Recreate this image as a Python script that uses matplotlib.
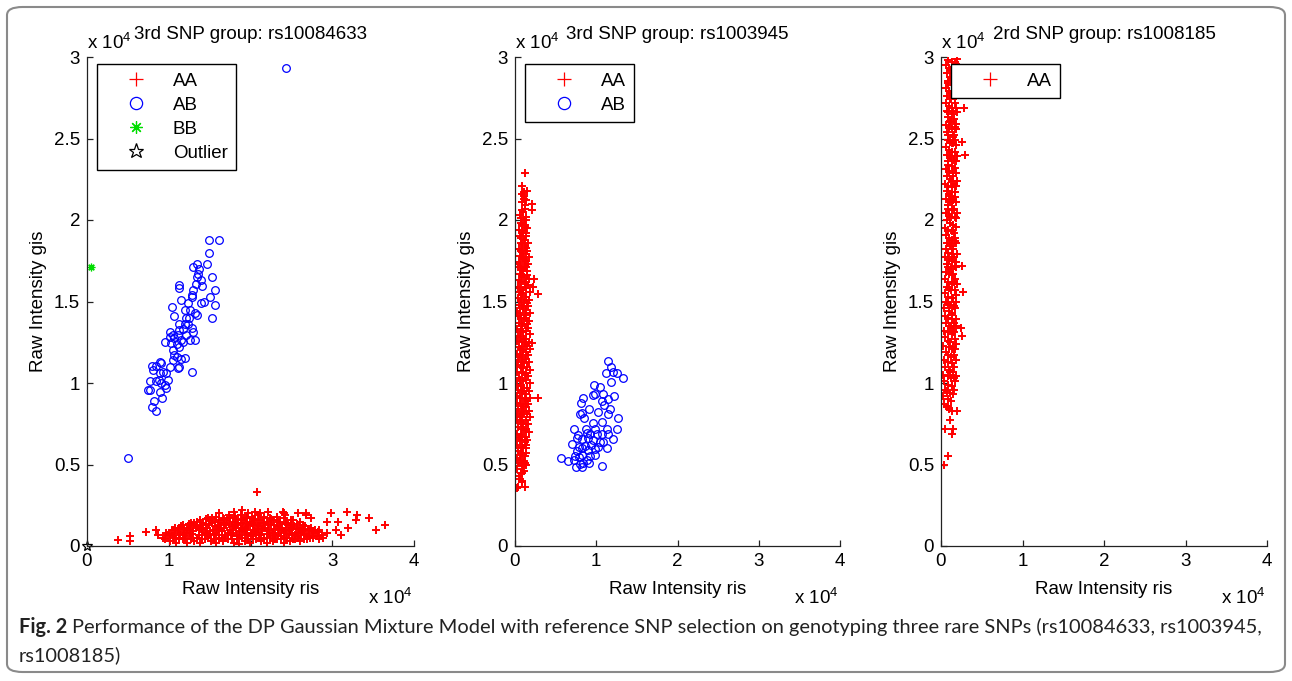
import matplotlib
matplotlib.use('Agg')
import matplotlib.pyplot as plt
from matplotlib.patches import FancyBboxPatch

plt.rcParams['font.family'] = ['Liberation Sans', 'DejaVu Sans']
plt.rcParams['mathtext.fontset'] = 'custom'
plt.rcParams['mathtext.rm'] = 'Liberation Sans'

# all intensities in units of 1e4
# ---- panel 1: rs10084633 ----
p1_aa_x = [1.02, 1.09, 1.17, 1.22, 1.31, 1.38, 1.44, 1.52, 1.58, 1.66, 1.73, 1.80, 1.86, 1.93, 1.99, 2.07, 2.13, 2.20, 2.27, 2.33, 2.41, 2.48, 2.55, 2.61, 2.69, 2.77, 2.84,
           0.96, 1.06, 1.13, 1.20, 1.27, 1.34, 1.41, 1.48, 1.55, 1.62, 1.69, 1.77, 1.83, 1.90, 1.97, 2.03, 2.10, 2.17, 2.24, 2.30, 2.37, 2.45, 2.52, 2.58, 2.65, 2.73, 2.81, 2.89,
           0.93, 0.99, 1.05, 1.13, 1.19, 1.26, 1.34, 1.41, 1.48, 1.55, 1.62, 1.69, 1.76, 1.83, 1.90, 1.96, 2.03, 2.10, 2.17, 2.24, 2.30, 2.37, 2.44, 2.51, 2.58, 2.65, 2.72, 2.79, 2.87,
           1.01, 1.08, 1.14, 1.21, 1.28, 1.37, 1.44, 1.51, 1.58, 1.65, 1.72, 1.79, 1.86, 1.93, 2.00, 2.07, 2.13, 2.20, 2.27, 2.34, 2.41, 2.47, 2.54, 2.61, 2.68, 2.75, 2.82,
           0.97, 1.04, 1.11, 1.17, 1.24, 1.30, 1.37, 1.45, 1.51, 1.59, 1.65, 1.72, 1.79, 1.87, 1.93, 2.00, 2.06, 2.14, 2.21, 2.28, 2.35, 2.42, 2.48, 2.56, 2.63, 2.70, 2.76, 2.84,
           1.06, 1.13, 1.19, 1.26, 1.33, 1.40, 1.47, 1.54, 1.61, 1.68, 1.75, 1.82, 1.89, 1.96, 2.03, 2.09, 2.16, 2.23, 2.30, 2.37, 2.44, 2.51, 2.58, 2.65, 2.72, 2.79,
           1.08, 1.15, 1.22, 1.28, 1.35, 1.42, 1.49, 1.56, 1.63, 1.70, 1.77, 1.84, 1.91, 1.97, 2.04, 2.11, 2.18, 2.25, 2.32, 2.39, 2.46, 2.53, 2.60, 2.67, 2.74,
           1.18, 1.25, 1.31, 1.39, 1.46, 1.53, 1.60, 1.67, 1.74, 1.81, 1.88, 1.95, 2.02, 2.08, 2.15, 2.22, 2.29, 2.36, 2.43, 2.50, 2.57, 2.64,
           1.27, 1.35, 1.42, 1.50, 1.57, 1.64, 1.71, 1.78, 1.85, 1.92, 1.99, 2.06, 2.13, 2.20, 2.27, 2.35, 2.43, 2.52, 2.60,
           1.38, 1.46, 1.53, 1.61, 1.68, 1.75, 1.82, 1.89, 1.96, 2.03, 2.10, 2.17, 2.25, 2.33, 2.41, 2.50,
           1.48, 1.58, 1.66, 1.74, 1.81, 1.88, 1.95, 2.02, 2.09, 2.16, 2.24, 2.33, 2.42, 2.58, 2.68,
           1.62, 1.80, 1.90, 1.97, 2.05, 2.12, 2.22, 2.40,
           0.38, 0.52, 0.53, 0.72, 0.84, 0.87, 2.08, 2.93, 2.98, 3.07, 3.18, 3.29, 3.30, 3.45, 3.54, 3.64, 3.19, 3.11, 2.94, 3.04, 2.41, 2.68, 2.74]
p1_aa_y = [0.03, 0.02, 0.04, 0.02, 0.03, 0.02, 0.04, 0.03, 0.02, 0.03, 0.04, 0.02, 0.01, 0.03, 0.02, 0.04, 0.03, 0.02, 0.03, 0.04, 0.02, 0.03, 0.04, 0.03, 0.04, 0.05, 0.04,
           0.04, 0.05, 0.04, 0.05, 0.04, 0.05, 0.04, 0.05, 0.045, 0.04, 0.05, 0.045, 0.04, 0.05, 0.04, 0.045, 0.05, 0.04, 0.05, 0.045, 0.04, 0.05, 0.045, 0.05, 0.04, 0.05, 0.06, 0.05,
           0.05, 0.07, 0.06, 0.05, 0.07, 0.06, 0.05, 0.07, 0.06, 0.07, 0.05, 0.06, 0.07, 0.06, 0.05, 0.07, 0.06, 0.07, 0.05, 0.06, 0.07, 0.06, 0.05, 0.07, 0.06, 0.07, 0.06, 0.08, 0.07,
           0.075, 0.08, 0.07, 0.08, 0.075, 0.07, 0.08, 0.075, 0.08, 0.07, 0.075, 0.08, 0.07, 0.08, 0.075, 0.08, 0.07, 0.075, 0.08, 0.07, 0.08, 0.075, 0.07, 0.08, 0.075, 0.08, 0.085,
           0.08, 0.10, 0.09, 0.08, 0.10, 0.09, 0.10, 0.08, 0.09, 0.10, 0.09, 0.08, 0.10, 0.09, 0.10, 0.08, 0.09, 0.10, 0.09, 0.08, 0.10, 0.09, 0.10, 0.08, 0.09, 0.10, 0.09, 0.10,
           0.10, 0.11, 0.105, 0.10, 0.11, 0.105, 0.11, 0.10, 0.105, 0.11, 0.10, 0.11, 0.105, 0.11, 0.10, 0.105, 0.11, 0.10, 0.105, 0.11, 0.10, 0.11, 0.105, 0.10, 0.105, 0.10,
           0.11, 0.12, 0.11, 0.13, 0.12, 0.11, 0.13, 0.12, 0.11, 0.13, 0.12, 0.13, 0.11, 0.12, 0.13, 0.12, 0.11, 0.13, 0.12, 0.11, 0.13, 0.12, 0.11, 0.12, 0.11,
           0.13, 0.135, 0.14, 0.13, 0.135, 0.14, 0.13, 0.14, 0.135, 0.13, 0.14, 0.135, 0.14, 0.13, 0.14, 0.135, 0.13, 0.14, 0.135, 0.13, 0.135, 0.13,
           0.14, 0.15, 0.14, 0.16, 0.15, 0.14, 0.16, 0.15, 0.14, 0.16, 0.15, 0.16, 0.14, 0.15, 0.16, 0.15, 0.14, 0.16, 0.15,
           0.16, 0.165, 0.17, 0.16, 0.165, 0.17, 0.165, 0.16, 0.17, 0.165, 0.16, 0.17, 0.165, 0.16, 0.17, 0.16,
           0.17, 0.18, 0.17, 0.19, 0.18, 0.19, 0.17, 0.18, 0.19, 0.18, 0.17, 0.18, 0.19, 0.20, 0.19,
           0.20, 0.21, 0.22, 0.20, 0.21, 0.20, 0.21, 0.21,
           0.035, 0.03, 0.06, 0.086, 0.096, 0.065, 0.33, 0.15, 0.20, 0.15, 0.21, 0.16, 0.19, 0.17, 0.10, 0.13, 0.11, 0.07, 0.08, 0.10, 0.20, 0.20, 0.17]
p1_ab_x = [1.49, 1.61, 1.49, 1.47, 1.345, 1.30, 1.37, 1.525, 1.36, 1.34, 1.39, 1.33, 1.13, 1.13, 1.41, 1.565, 1.30, 1.28, 1.29, 1.50,
           1.155, 1.435, 1.39, 1.56, 1.23, 1.045, 1.195, 1.255, 1.32, 1.345, 1.07, 1.215, 1.245, 1.53, 1.13, 1.195, 1.235, 1.175, 1.28, 1.13,
           1.30, 1.01, 1.05, 1.11, 1.215, 1.01, 1.07, 1.155, 1.255, 1.32, 0.955, 1.03, 1.095, 1.175, 1.13, 1.05, 1.07, 1.095, 1.155, 1.195,
           1.05, 1.01, 1.11, 1.13, 1.28, 0.80, 0.84, 0.89, 0.91, 0.81, 0.93, 0.89, 0.97, 0.775, 0.85, 0.88, 0.91, 0.95, 0.985, 0.75,
           0.77, 0.89, 0.97, 0.92, 0.815, 0.80, 0.84, 2.44, 0.50]
p1_ab_y = [1.88, 1.875, 1.80, 1.73, 1.73, 1.71, 1.70, 1.65, 1.67, 1.65, 1.63, 1.61, 1.60, 1.585, 1.595, 1.57, 1.57, 1.54, 1.53, 1.53,
           1.51, 1.50, 1.49, 1.48, 1.49, 1.465, 1.45, 1.45, 1.43, 1.42, 1.41, 1.40, 1.40, 1.40, 1.36, 1.36, 1.36, 1.33, 1.335, 1.325,
           1.315, 1.31, 1.295, 1.295, 1.295, 1.28, 1.275, 1.265, 1.265, 1.265, 1.25, 1.245, 1.24, 1.25, 1.22, 1.20, 1.17, 1.16, 1.145, 1.155,
           1.14, 1.10, 1.09, 1.10, 1.07, 1.105, 1.105, 1.13, 1.12, 1.08, 1.07, 1.06, 1.06, 1.01, 1.015, 1.02, 1.00, 0.99, 1.02, 0.955,
           0.96, 0.945, 0.97, 0.91, 0.89, 0.85, 0.83, 2.93, 0.54]
p1_bb_x = [0.05]
p1_bb_y = [1.71]
p1_out_x = [0.0]
p1_out_y = [0.0]

# ---- panel 2: rs1003945 ----
p2_aa_x = [0.05, 0.03, 0.04, 0.02, 0.04, 0.03, 0.05, 0.02, 0.04, 0.03, 0.02, 0.04, 0.03, 0.02, 0.04, 0.03, 0.05, 0.02, 0.03, 0.04, 0.02, 0.05,
           0.03, 0.04, 0.03, 0.05, 0.04, 0.03, 0.05, 0.04, 0.06, 0.04, 0.05, 0.06, 0.04, 0.05, 0.06, 0.05, 0.07, 0.06, 0.05, 0.07, 0.06,
           0.06, 0.07, 0.08, 0.06, 0.07, 0.08, 0.06, 0.07, 0.08, 0.07, 0.06, 0.08, 0.07, 0.06, 0.08, 0.07, 0.06, 0.08, 0.07, 0.08, 0.06, 0.07, 0.08,
           0.06, 0.07, 0.08, 0.07, 0.06, 0.08, 0.07, 0.08, 0.06, 0.07, 0.08, 0.07, 0.06, 0.08, 0.07, 0.08, 0.07, 0.09, 0.08, 0.07, 0.09, 0.08, 0.09, 0.08,
           0.08, 0.09, 0.10, 0.11, 0.09, 0.10, 0.12, 0.09, 0.11, 0.10, 0.09, 0.11, 0.10, 0.12, 0.09, 0.11, 0.10, 0.12, 0.10, 0.11, 0.09, 0.10, 0.12,
           0.11, 0.10, 0.09, 0.11, 0.12, 0.10, 0.11, 0.09, 0.10, 0.12, 0.11, 0.10, 0.12, 0.11, 0.10, 0.12, 0.11, 0.10, 0.12, 0.11, 0.10, 0.12, 0.11,
           0.11, 0.12, 0.13, 0.14, 0.13, 0.14, 0.13, 0.15, 0.14, 0.13, 0.14, 0.15, 0.13, 0.14, 0.15, 0.13, 0.14, 0.15, 0.13, 0.14,
           0.15, 0.14, 0.13, 0.15, 0.14, 0.13, 0.14, 0.15, 0.13, 0.14, 0.13, 0.14, 0.12, 0.13, 0.12, 0.13, 0.12, 0.13, 0.11,
           0.13, 0.12, 0.14, 0.15, 0.17, 0.16, 0.18, 0.17, 0.16, 0.18, 0.17, 0.19, 0.16, 0.18, 0.17, 0.16, 0.18, 0.17, 0.19, 0.16, 0.17, 0.18,
           0.16, 0.17, 0.18, 0.16, 0.17, 0.15, 0.16, 0.17, 0.15, 0.16, 0.14, 0.15, 0.14,
           0.28, 0.22, 0.235, 0.28, 0.21, 0.21, 0.12, 0.15, 0.11, 0.04, 0.12, 0.08, 0.02, 0.21]
p2_aa_y = [0.43, 0.47, 0.51, 0.54, 0.58, 0.62, 0.66, 0.69, 0.73, 0.77, 0.81, 0.84, 0.88, 0.92, 0.96, 0.99, 1.03, 1.07, 1.11, 1.14, 1.18, 1.22,
           1.26, 1.29, 1.33, 1.37, 1.41, 1.44, 1.48, 1.52, 1.56, 1.59, 1.63, 1.67, 1.71, 1.74, 1.78, 1.82, 1.86, 1.90, 1.94, 1.98, 2.03,
           0.41, 0.45, 0.50, 0.53, 0.57, 0.61, 0.65, 0.68, 0.72, 0.76, 0.80, 0.83, 0.87, 0.91, 0.95, 0.98, 1.02, 1.06, 1.10, 1.13, 1.17, 1.21, 1.25,
           1.28, 1.32, 1.36, 1.40, 1.43, 1.47, 1.51, 1.55, 1.58, 1.62, 1.66, 1.70, 1.73, 1.77, 1.81, 1.85, 1.89, 1.93, 1.97, 2.01, 2.06, 2.11, 2.16, 2.21,
           0.40, 0.45, 0.49, 0.52, 0.56, 0.60, 0.64, 0.67, 0.71, 0.75, 0.79, 0.82, 0.86, 0.90, 0.94, 0.97, 1.01, 1.05, 1.09, 1.12, 1.16, 1.20, 1.24,
           1.27, 1.31, 1.35, 1.39, 1.42, 1.46, 1.50, 1.54, 1.57, 1.61, 1.65, 1.69, 1.72, 1.76, 1.80, 1.84, 1.88, 1.92, 1.96, 2.00, 2.05, 2.09, 2.13,
           0.46, 0.51, 0.57, 0.62, 0.67, 0.72, 0.77, 0.81, 0.85, 0.89, 0.93, 0.97, 1.02, 1.06, 1.10, 1.15, 1.19, 1.23, 1.27, 1.32,
           1.36, 1.40, 1.45, 1.49, 1.53, 1.58, 1.62, 1.66, 1.71, 1.75, 1.79, 1.83, 1.88, 1.92, 1.97, 2.02, 2.07, 2.12, 2.17,
           0.50, 0.55, 0.60, 0.65, 0.70, 0.75, 0.79, 0.83, 0.87, 0.91, 0.95, 1.00, 1.04, 1.08, 1.13, 1.17, 1.21, 1.25, 1.30, 1.34, 1.38, 1.43,
           1.47, 1.51, 1.56, 1.60, 1.64, 1.69, 1.73, 1.77, 1.81, 1.86, 1.90, 1.95, 2.00,
           1.545, 1.59, 1.64, 0.91, 2.10, 2.06, 2.29, 2.18, 2.15, 0.36, 0.36, 0.39, 0.355, 1.245]
p2_ab_x = [1.14, 1.18, 1.115, 1.20, 1.26, 1.325, 1.18, 0.975, 1.045, 0.955, 0.99, 1.085, 1.22, 0.84, 1.065, 1.15, 0.81, 1.095, 0.915, 1.17,
           0.83, 0.80, 1.15, 0.85, 1.025, 1.27, 0.965, 1.075, 0.875, 0.72, 0.985, 1.13, 1.26, 0.77, 0.88, 0.92, 1.005, 1.065, 1.15, 0.76,
           0.82, 0.90, 0.965, 1.04, 1.21, 0.70, 0.79, 0.86, 0.94, 1.025, 1.08, 0.76, 0.82, 0.90, 0.985, 1.13, 0.74, 0.83, 0.92, 0.985,
           0.565, 0.655, 0.72, 0.79, 0.88, 0.84, 0.91, 0.75, 0.83, 1.065, 0.80]
p2_ab_y = [1.135, 1.10, 1.06, 1.065, 1.06, 1.03, 1.005, 0.99, 0.975, 0.925, 0.93, 0.93, 0.92, 0.91, 0.89, 0.90, 0.875, 0.865, 0.84, 0.84,
           0.815, 0.81, 0.81, 0.785, 0.825, 0.785, 0.755, 0.76, 0.715, 0.715, 0.715, 0.72, 0.715, 0.68, 0.695, 0.685, 0.69, 0.685, 0.69, 0.66,
           0.655, 0.66, 0.65, 0.64, 0.655, 0.625, 0.61, 0.615, 0.62, 0.61, 0.635, 0.585, 0.60, 0.59, 0.595, 0.60, 0.55, 0.56, 0.55, 0.56,
           0.54, 0.52, 0.53, 0.545, 0.53, 0.51, 0.51, 0.485, 0.485, 0.49, 0.505]

# ---- panel 3: rs1008185 ----
p3_aa_x = [0.04, 0.03, 0.05, 0.04, 0.03, 0.05, 0.04, 0.06, 0.03, 0.05, 0.04, 0.06, 0.05, 0.04, 0.06, 0.05, 0.07, 0.05, 0.06, 0.07, 0.05, 0.06, 0.07, 0.06,
           0.05, 0.07, 0.06, 0.08, 0.06, 0.07, 0.05, 0.07, 0.06, 0.08, 0.07, 0.06, 0.08, 0.07, 0.06, 0.08, 0.07, 0.06, 0.07, 0.06, 0.08, 0.07, 0.06,
           0.08, 0.09, 0.07, 0.09, 0.08, 0.10, 0.09, 0.08, 0.10, 0.09, 0.08, 0.10, 0.09, 0.10, 0.09, 0.08, 0.10, 0.09, 0.10, 0.09, 0.10, 0.09, 0.11, 0.10,
           0.09, 0.11, 0.10, 0.09, 0.11, 0.10, 0.09, 0.11, 0.10, 0.09, 0.11, 0.10, 0.11, 0.09, 0.10, 0.11, 0.09, 0.10, 0.11, 0.10, 0.09, 0.11, 0.10, 0.09,
           0.10, 0.12, 0.11, 0.13, 0.12, 0.11, 0.13, 0.12, 0.14, 0.11, 0.13, 0.12, 0.14, 0.13, 0.11, 0.13, 0.12, 0.14, 0.13, 0.12, 0.14, 0.13, 0.12, 0.14,
           0.13, 0.15, 0.12, 0.14, 0.13, 0.12, 0.14, 0.13, 0.15, 0.13, 0.12, 0.14, 0.13, 0.15, 0.14, 0.12, 0.13, 0.14, 0.12, 0.13, 0.14, 0.13, 0.12, 0.14,
           0.15, 0.14, 0.16, 0.15, 0.14, 0.16, 0.15, 0.17, 0.15, 0.16, 0.14, 0.16, 0.15, 0.17, 0.16, 0.15, 0.17, 0.16, 0.15, 0.17, 0.16,
           0.15, 0.17, 0.16, 0.15, 0.17, 0.16, 0.15, 0.17, 0.16, 0.17, 0.15, 0.16, 0.17, 0.16, 0.15, 0.17, 0.16, 0.17, 0.15, 0.16, 0.17,
           0.16, 0.17, 0.18, 0.16, 0.19, 0.17, 0.18, 0.16, 0.19, 0.18, 0.17, 0.19, 0.18, 0.20, 0.17, 0.19, 0.18, 0.20, 0.19, 0.17, 0.19,
           0.18, 0.20, 0.19, 0.17, 0.18, 0.20, 0.19, 0.18, 0.20, 0.19, 0.17, 0.19, 0.18, 0.20, 0.19, 0.18, 0.20, 0.19, 0.18, 0.19, 0.20,
           0.05, 0.11, 0.13, 0.15, 0.09, 0.04, 0.13, 0.07, 0.20, 0.27, 0.26, 0.26, 0.25, 0.28, 0.29, 0.26]
p3_aa_y = [0.87, 0.92, 0.96, 1.01, 1.05, 1.10, 1.14, 1.19, 1.23, 1.28, 1.32, 1.37, 1.41, 1.46, 1.50, 1.55, 1.59, 1.64, 1.68, 1.73, 1.77, 1.82, 1.86, 1.91,
           1.95, 2.00, 2.04, 2.09, 2.13, 2.18, 2.22, 2.27, 2.31, 2.36, 2.40, 2.45, 2.49, 2.54, 2.58, 2.63, 2.67, 2.72, 2.76, 2.81, 2.85, 2.90, 2.95,
           0.86, 0.90, 0.95, 0.99, 1.04, 1.08, 1.13, 1.17, 1.22, 1.26, 1.31, 1.35, 1.40, 1.44, 1.49, 1.53, 1.58, 1.62, 1.67, 1.71, 1.76, 1.80, 1.85, 1.89,
           1.94, 1.98, 2.03, 2.07, 2.12, 2.16, 2.21, 2.25, 2.30, 2.34, 2.39, 2.43, 2.48, 2.52, 2.57, 2.61, 2.66, 2.70, 2.75, 2.79, 2.84, 2.88, 2.93, 2.98,
           0.84, 0.89, 0.94, 0.98, 1.03, 1.07, 1.12, 1.16, 1.21, 1.25, 1.30, 1.34, 1.39, 1.43, 1.48, 1.52, 1.57, 1.61, 1.66, 1.70, 1.75, 1.79, 1.84, 1.88,
           1.93, 1.97, 2.02, 2.06, 2.11, 2.15, 2.20, 2.24, 2.29, 2.33, 2.38, 2.42, 2.47, 2.51, 2.56, 2.60, 2.65, 2.69, 2.74, 2.78, 2.83, 2.87, 2.92, 2.97,
           0.93, 0.98, 1.03, 1.07, 1.12, 1.17, 1.22, 1.27, 1.32, 1.37, 1.42, 1.47, 1.52, 1.57, 1.62, 1.67, 1.72, 1.77, 1.82, 1.87, 1.92,
           1.97, 2.02, 2.07, 2.12, 2.17, 2.22, 2.27, 2.32, 2.37, 2.42, 2.47, 2.52, 2.57, 2.62, 2.67, 2.72, 2.77, 2.82, 2.87, 2.92, 2.97,
           0.96, 1.01, 1.04, 1.10, 1.14, 1.21, 1.24, 1.31, 1.35, 1.39, 1.46, 1.50, 1.54, 1.61, 1.64, 1.71, 1.74, 1.79, 1.86, 1.89, 1.96,
           2.01, 2.04, 2.11, 2.14, 2.21, 2.24, 2.29, 2.36, 2.39, 2.46, 2.49, 2.56, 2.59, 2.66, 2.69, 2.76, 2.79, 2.86, 2.89, 2.96, 2.99,
           0.72, 0.77, 0.69, 0.72, 0.55, 0.50, 0.83, 0.85, 0.83, 1.56, 1.72, 1.29, 1.34, 2.69, 2.40, 2.48]

titles = ['3rd SNP group: rs10084633', '3rd SNP group: rs1003945', '2rd SNP group: rs1008185']
xticks = [0, 1, 2, 3, 4]
yticks = [0, 0.5, 1, 1.5, 2, 2.5, 3]
ytick_labels = ['0', '0.5', '1', '1.5', '2', '2.5', '3']

RED = '#ff0000'
BLUE = '#0000ff'
GREEN = '#00dd00'
FS = 13.5

fig = plt.figure(figsize=(12.92, 6.81), dpi=100)

# rounded frame round the whole figure
frame = FancyBboxPatch((7 / 1292, 9 / 681), 1278 / 1292, 665 / 681,
                       boxstyle='round,pad=0,rounding_size=0.012',
                       transform=fig.transFigure, fc='none', ec='#8a8a8a', lw=1.5)
fig.patches.append(frame)

rects = [[87 / 1292, 135 / 681, 327 / 1292, 489 / 681],
         [515 / 1292, 135 / 681, 325 / 1292, 489 / 681],
         [941 / 1292, 135 / 681, 326 / 1292, 489 / 681]]
axes = [fig.add_axes(r) for r in rects]

for ax, t in zip(axes, titles):
    ax.set_xlim(0, 4)
    ax.set_ylim(0, 3)
    ax.set_xticks(xticks)
    ax.set_yticks(yticks)
    ax.set_yticklabels(ytick_labels)
    for s in ['top', 'right']:
        ax.spines[s].set_visible(False)
    for s in ['left', 'bottom']:
        ax.spines[s].set_color('#222222')
        ax.spines[s].set_linewidth(0.9)
    ax.tick_params(direction='in', length=4, width=0.9, labelsize=FS, color='#222222', pad=5)
    ax.set_title(t, fontsize=FS, pad=13)
    ax.set_xlabel('Raw Intensity ris', fontsize=FS, labelpad=8)
    ax.set_ylabel('Raw Intensity gis', fontsize=FS, labelpad=5)
    ax.text(0.0, 1.008, r'x 10$^{4}$', transform=ax.transAxes, fontsize=FS, ha='left', va='bottom')
    ax.text(0.995, -0.118, r'x 10$^{4}$', transform=ax.transAxes, fontsize=FS, ha='right', va='baseline')

mk = dict(linestyle='none', markersize=6, markeredgewidth=1.4)
mk_o = dict(linestyle='none', markersize=5.5, markeredgewidth=0.9)

ax = axes[0]
ax.plot(p1_aa_x, p1_aa_y, marker='+', color=RED, label='AA', **mk)
ax.plot(p1_ab_x, p1_ab_y, marker='o', color=BLUE, mfc='none', label='AB', **mk_o)
ax.plot(p1_bb_x, p1_bb_y, marker=(8, 2, 0), color=GREEN, label='BB', **mk_o)
ax.plot(p1_out_x, p1_out_y, marker='*', color='k', mfc='none', label='Outlier',
        clip_on=False, linestyle='none', markersize=7, markeredgewidth=0.9)

ax = axes[1]
ax.plot(p2_aa_x, p2_aa_y, marker='+', color=RED, label='AA', **mk)
ax.plot(p2_ab_x, p2_ab_y, marker='o', color=BLUE, mfc='none', label='AB', **mk_o)

ax = axes[2]
ax.plot(p3_aa_x, p3_aa_y, marker='+', color=RED, label='AA', **mk)

for ax in axes:
    leg = ax.legend(loc='upper left', bbox_to_anchor=(0.03, 0.985), fontsize=FS,
                    markerscale=1.6, handlelength=3.3, handletextpad=0.3,
                    labelspacing=0.36, borderpad=0.45, borderaxespad=0,
                    fancybox=False, framealpha=1)
    leg.get_frame().set_edgecolor('k')
    leg.get_frame().set_linewidth(1.0)
    for h in leg.legend_handles:
        h.set_markeredgewidth(0.9)

# caption
cap_font = ['Lato', 'DejaVu Sans']
bold = fig.text(19 / 1292, 1 - 633 / 681, 'Fig. 2', fontsize=14.4, fontweight='bold',
                family=cap_font, va='baseline', color='#222222')
fig.canvas.draw()
bb = bold.get_window_extent()
fig.text((bb.x1 + 5) / 1292, 1 - 633 / 681,
         'Performance of the DP Gaussian Mixture Model with reference SNP selection on genotyping three rare SNPs (rs10084633, rs1003945,',
         fontsize=14.4, family=cap_font, va='baseline', color='#222222')
fig.text(19 / 1292, 1 - 661 / 681, 'rs1008185)', fontsize=14.4, family=cap_font,
         va='baseline', color='#222222')

fig.savefig('out.png', dpi=100)
